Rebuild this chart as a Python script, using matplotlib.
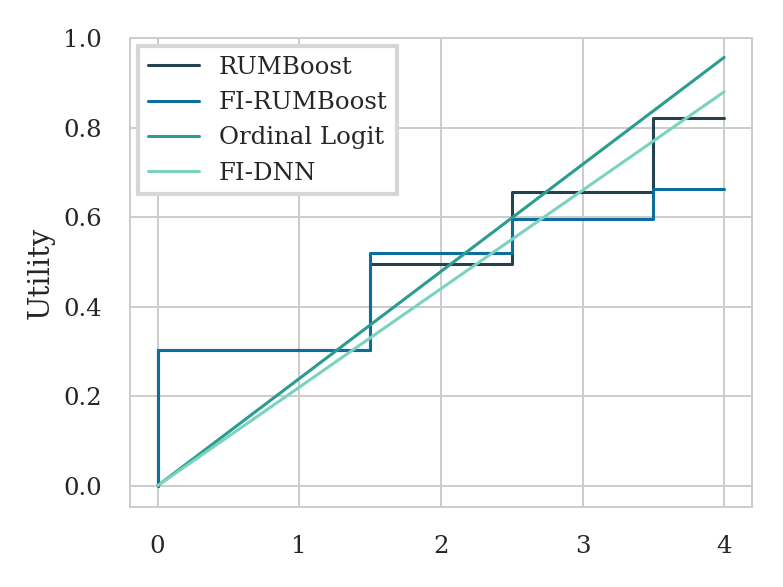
import matplotlib
matplotlib.use('Agg')
import numpy as np
import matplotlib.pyplot as plt
import seaborn as sns

# step breakpoints (utility jumps at half-integer values)
x_steps = [0, 0, 1.5, 2.5, 3.5, 4]
rumboost = [0.0, 0.303, 0.496, 0.657, 0.821, 0.821]
fi_rumboost = [0.0, 0.303, 0.520, 0.596, 0.664, 0.664]

# linear models
x_lin = [0, 4]
ordinal_logit = [0.0, 0.957]
fi_dnn = [0.0, 0.880]

colors = {'RUMBoost': '#23434f', 'FI-RUMBoost': '#0b6e9e',
          'Ordinal Logit': '#2a9d8f', 'FI-DNN': '#7bd3bf'}

sns.set_theme(style='whitegrid')
plt.rcParams['font.family'] = ['DejaVu Serif']

fig = plt.figure(figsize=(3.915, 2.935), dpi=200)
ax = fig.add_axes([0.166, 0.136, 0.795, 0.799])

lw = 1.1
ax.step(x_steps, rumboost, where='post', color=colors['RUMBoost'], lw=lw, label='RUMBoost')
ax.step(x_steps, fi_rumboost, where='post', color=colors['FI-RUMBoost'], lw=lw, label='FI-RUMBoost')
ax.plot(x_lin, ordinal_logit, color=colors['Ordinal Logit'], lw=lw, label='Ordinal Logit')
ax.plot(x_lin, fi_dnn, color=colors['FI-DNN'], lw=lw, label='FI-DNN')

ax.set_xlim(-0.195, 4.2)
ax.set_ylim(-0.048, 1.0)
ax.set_xticks([0, 1, 2, 3, 4])
ax.set_yticks([0.0, 0.2, 0.4, 0.6, 0.8, 1.0])
ax.set_yticklabels(['0.0', '0.2', '0.4', '0.6', '0.8', '1.0'])
ax.tick_params(labelsize=8.8, colors='#262626', pad=4)
ax.set_ylabel('Utility', fontsize=10.5, color='#262626', labelpad=3)
ax.grid(True, color='#cccccc', lw=0.7)
for s in ax.spines.values():
    s.set_color('#cccccc')
    s.set_linewidth(0.7)

leg = ax.legend(loc='upper left', fontsize=8.8, frameon=True, fancybox=False,
                borderaxespad=0.33, handlelength=2.1, labelspacing=0.5,
                borderpad=0.4)
leg.get_frame().set_edgecolor('#d6d6d6')
leg.get_frame().set_linewidth(1.5)
leg.get_frame().set_alpha(1)

fig.savefig('out.png', dpi=200)
